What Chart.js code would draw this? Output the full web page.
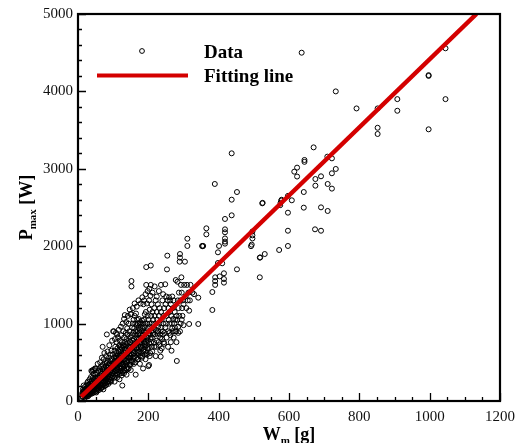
<!DOCTYPE html>
<html>
<head>
<meta charset="utf-8">
<title>Pmax vs Wm</title>
<script src="https://cdn.jsdelivr.net/npm/chart.js@4.4.0/dist/chart.umd.min.js"></script>
<style>
    html, body { margin: 0; padding: 0; background: #ffffff; }
    #wrap { width: 522px; height: 443px; }
</style>
</head>
<body>
<div id="wrap"><canvas id="ControlPmaxChart"></canvas></div>
<script>
// tick labels
var xTicks = [0, 200, 400, 600, 800, 1000, 1200];
var yTicks = [0, 1000, 2000, 3000, 4000, 5000];

// fitting line (two end points)
var fitW = [9, 1133];
var fitP = [55, 5000];

// measured data, [Wm (g), Pmax (W)]
var dataOrigin = [
    [10,40],[12,60],[12,90],[14,50],[15,120],[16,75],[17,140],[18,60],[18,100],[19,180],
    [20,45],[20,85],[21,130],[22,70],[22,160],[23,110],[24,200],[24,90],[25,60],[25,140],
    [26,120],[26,230],[27,80],[27,170],[28,100],[28,250],[29,140],[30,70],[30,190],[30,120],
    [14,150],[16,200],[19,130],[21,95],[23,65],[26,90],[28,60],[29,210],[13,110],[17,100]
];

var dataLow = [
    [31,90],[31,160],[32,210],[32,130],[33,100],[33,280],[34,170],[34,140],[35,120],[35,230],
    [36,190],[36,90],[37,150],[37,310],[38,200],[38,130],[39,260],[39,110],[40,180],[40,380],
    [40,140],[41,220],[41,100],[42,160],[42,300],[43,240],[43,130],[44,190],[44,350],[45,110],
    [45,270],[45,210],[46,160],[46,400],[47,230],[47,140],[48,300],[48,180],[49,120],[49,260],
    [50,200],[50,340],[50,150],[51,420],[51,240],[52,170],[52,290],[53,130],[53,220],[54,360],
    [54,190],[55,250],[55,150],[56,310],[56,480],[57,210],[57,170],[58,270],[58,390],[59,140],
    [59,230],[60,300],[60,190],[38,390],[42,400],[48,420],[36,120],[44,150],[52,110],[58,160]
];

var dataMid = [
    [61,250],[61,420],[62,180],[62,330],[63,500],[63,270],[64,210],[64,380],[65,160],[65,300],
    [66,450],[66,240],[67,350],[67,200],[68,560],[68,290],[69,410],[69,230],[70,320],[70,180],
    [70,700],[71,260],[71,470],[72,380],[72,210],[73,300],[73,540],[74,250],[74,430],[75,340],
    [75,190],[75,620],[76,280],[76,400],[77,230],[77,500],[78,360],[78,300],[79,260],[79,450],
    [80,580],[80,330],[80,210],[81,400],[81,280],[82,490],[82,860],[83,350],[83,240],[84,430],
    [84,640],[85,300],[85,520],[86,380],[86,260],[87,460],[87,330],[88,560],[88,290],[89,410],
    [89,720],[90,350],[90,250],[90,480],[91,600],[91,310],[92,430],[92,380],[93,520],[93,270],
    [94,460],[94,340],[95,650],[95,400],[96,300],[96,540],[97,420],[97,780],[98,360],[98,480],
    [99,320],[99,600],[100,440],[100,380],[100,900],[66,170],[72,150],[78,200],[86,220],[94,250]
];

var dataHigh = [
    [101,500],[101,350],[102,900],[102,420],[103,560],[103,300],[104,470],[104,650],[105,390],[105,520],
    [106,330],[106,700],[107,450],[107,580],[108,880],[108,400],[109,620],[109,360],[110,500],[110,430],
    [110,760],[111,550],[111,300],[112,480],[112,680],[113,410],[113,590],[114,520],[114,820],[115,380],
    [115,640],[116,470],[116,560],[117,720],[117,430],[118,600],[118,350],[119,510],[119,780],[120,660],
    [120,450],[120,540],[121,390],[121,700],[122,580],[122,480],[123,850],[123,620],[124,420],[124,530],
    [125,690],[125,760],[126,200],[126,470],[127,600],[127,380],[128,650],[128,540],[129,900],[129,450],
    [130,720],[130,580],[131,500],[131,820],[132,620],[132,400],[133,680],[133,1110],[134,540],[134,760],
    [135,460],[135,600],[136,880],[136,650],[137,520],[137,720],[138,420],[138,800],[139,580],[139,680],
    [140,940],[140,500],[141,750],[141,620],[142,440],[142,860],[143,560],[143,700],[144,1000],[144,640],
    [145,520],[145,780],[146,600],[146,900],[147,470],[147,700],[148,820],[148,560],[149,660],[149,760],
    [150,1120],[150,580],[150,400],
    [104,250],[112,340],[118,280],[124,330],[131,360],[138,340],[144,420],[108,560],[116,640],[127,720]
];

var dataUpper = [
    [151,1125],[152,1550],[152,1480],[152,700],[153,850],[153,600],[154,950],[154,500],[155,780],[155,660],
    [156,1000],[156,560],[157,880],[157,720],[158,1050],[158,620],[159,800],[159,480],[160,940],[160,700],
    [161,1100],[161,580],[162,860],[162,760],[163,1000],[163,640],[164,340],[164,900],[165,1130],[165,720],
    [166,820],[166,560],[167,980],[167,680],[168,1050],[168,800],[169,620],[169,900],[170,760],[170,1000],
    [171,860],[171,540],[172,940],[172,700],[173,1060],[173,800],[174,640],[174,880],[175,1000],[175,740],
    [176,580],[176,920],[177,820],[177,1020],[178,700],[178,960],[179,860],[179,620],[180,1000],[180,760],
    [181,900],[181,680],[182,1040],[182,800],[183,580],[183,940],[184,860],[184,720],[185,1000],[185,420],
    [186,780],[186,1250],[187,900],[187,660],[188,1050],[188,820],[189,960],[189,600],[190,740],[190,1120],
    [191,880],[191,700],[192,1000],[192,640],[193,1150],[193,800],[194,1730],[194,1500],[195,900],[195,720],
    [196,1260],[196,600],[197,1000],[197,820],[198,1100],[198,680],[199,940],[199,780],[200,1050],[200,450],
    [201,880],[202,1300],[202,465],[203,1000],[203,740],[204,1180],[204,860],[205,960],[205,620],[206,1360],
    [206,800],[207,1500],[207,1750],[208,1100],[208,900],[209,700],[209,1250],[210,1000],[210,820]
];

// extra points below and above the fitted line in the 100-300 g range
var dataBelow = [
    [121,420],[125,360],[128,470],[133,390],[136,480],[141,410],[145,560],[149,470],[153,520],[156,640],
    [159,560],[163,500],[166,690],[169,540],[172,620],[176,480],[179,700],[182,560],[186,640],[189,760],
    [192,540],[195,620],[198,820],[201,700],[204,580],[208,760],[211,640],[214,860],[217,700],[221,580],
    [224,780],[227,900],[231,720],[234,820],[238,680],[241,860],[245,740],[248,950],[252,820],[256,700],
    [260,880],[264,760],[268,940],[272,820],[276,900],[280,760],[285,960],[290,900],[295,1050],[300,980]
];

var dataAbove = [
    [105,800],[111,860],[116,920],[122,960],[127,1000],[131,1060],[137,1020],[142,1100],[147,1180],[156,1200],
    [161,1260],[167,1220],[172,1300],[178,1260],[183,1340],[188,1300],[192,1380],[198,1420],[203,1450],[212,1400],
    [218,1480],[224,1350],[230,1420],[236,1500],[242,1380]
];

var dataSpread = [
    [212,1150],[213,880],[214,1050],[215,950],[216,760],[217,1200],[218,1100],[219,860],[220,1000],[221,1300],
    [222,920],[223,700],[224,1150],[225,1050],[226,880],[227,1250],[228,960],[229,760],[230,1100],[231,1000],
    [232,1200],[233,860],[234,650],[235,573],[236,1150],[237,950],[238,1050],[239,800],[240,1300],[241,900],
    [242,1000],[243,1100],[244,760],[245,1200],[246,880],[248,1508],[249,1250],[250,1000],[251,1350],[252,1100],
    [253,1700],[254,1878],[255,1300],[256,900],[257,1200],[258,1050],[259,1340],[260,1000],[261,1150],[262,1300],
    [263,850],[264,1250],[265,1100],[266,650],[267,1000],[268,1350],[269,900],[270,1200],[271,1060],[272,1300],
    [274,1000],[275,1150],[276,950],[277,1050],[278,1563],[279,900],[280,1100],[281,517],[282,1050],[283,1541],
    [284,1300],[285,880],[286,1200],[287,1400],[288,1100],[289,1800],[290,1899],[290,1852],[291,1300],[292,1000],
    [293,1500],[294,1598],[295,1400],[296,1200],[297,1100],[298,1300],[300,1250],[302,1500],[304,1800],[306,1350],
    [308,1200],[310,1500],[311,2097],[311,2003],[312,1300],[314,1400],[316,1167],[316,995],[318,1300],[320,1500],
    [325,1400],[330,1380]
];

var dataSparse = [
    [342,1335],[342,995],[353,2003],[354,2000],[356,2003],[365,2231],[365,2153],[382,1408],[382,1176],[389,2804],
    [390,1598],[390,1550],[390,1500],[398,1921],[398,1783],[401,2003],[403,1610],[410,1779],[415,1650],[415,1576],
    [415,1529],[418,2352],[418,2218],[418,2180],[418,2100],[418,2060],[418,2033],[437,3200],[437,2601],[437,2399],
    [452,2700],[452,1701],
    [496,2190],[496,2140],[496,2100],[494,2020],[492,2000],[517,1852],[518,1855],[531,1899],[517,1598],[524,2554],
    [525,2560],[572,1951],[575,2530],[576,2560],[578,2590],[579,2600],[597,2433],[597,2200],[597,2003],[597,2650],
    [608,2593],[615,2963],[623,3015],[623,2900],[636,4500],[642,2700],[642,2498],[644,3114],[644,3090],[670,3277],
    [674,2218],[675,2868],[675,2782],[691,2903],[691,2502],[691,2200],[709,3157],[710,2804],[710,2455],[722,3135],
    [722,2942],[722,2744],[733,4000],[733,2998],[792,3780],[852,3780],[852,3530],[852,3450],[908,3900],[908,3750],
    [997,4200],[997,4210],[997,3510],[1045,4557],[1045,3900]
];

var serif = '"Liberation Serif", "Times New Roman", serif';
var lineRed = '#d40000';

var pmaxChart = {

    initialize: function () {
        var all = dataOrigin.concat(dataLow, dataMid, dataHigh, dataUpper, dataBelow, dataAbove, dataSpread, dataSparse);
        var points = [];
        for (var i = 0; i < all.length; i++) {
            points.push({ x: all[i][0], y: all[i][1] });
        }
        var fit = [];
        for (var j = 0; j < fitW.length; j++) {
            fit.push({ x: fitW[j], y: fitP[j] });
        }
        pmaxChart.draw(points, fit);
    },

    // inward major/minor ticks, frame, legend and axis titles
    decorPlugin: {
        id: 'decor',
        afterDraw: function (chart) {
            var ctx = chart.ctx;
            var a = chart.chartArea;
            var xs = chart.scales.x;
            var ys = chart.scales.y;
            var v, p;

            ctx.save();
            ctx.strokeStyle = '#000';
            ctx.lineWidth = 1.3;
            ctx.beginPath();
            for (v = 0; v <= 1200; v += 50) {
                p = Math.round(xs.getPixelForValue(v)) + 0.5;
                var lx = (v % 200 === 0) ? 8 : 4;
                ctx.moveTo(p, a.bottom);
                ctx.lineTo(p, a.bottom - lx);
            }
            for (v = 0; v <= 5000; v += 200) {
                p = Math.round(ys.getPixelForValue(v)) + 0.5;
                var ly = (v % 1000 === 0) ? 8 : 4;
                ctx.moveTo(a.left, p);
                ctx.lineTo(a.left + ly, p);
            }
            ctx.stroke();

            ctx.lineWidth = 2.2;
            ctx.strokeRect(a.left, a.top, a.right - a.left, a.bottom - a.top);

            // legend
            ctx.lineWidth = 1;
            ctx.beginPath();
            ctx.arc(142, 51, 2.4, 0, Math.PI * 2);
            ctx.stroke();
            ctx.strokeStyle = lineRed;
            ctx.lineWidth = 4;
            ctx.beginPath();
            ctx.moveTo(97, 75.5);
            ctx.lineTo(188, 75.5);
            ctx.stroke();
            ctx.fillStyle = '#000';
            ctx.font = 'bold 19px ' + serif;
            ctx.textAlign = 'left';
            ctx.textBaseline = 'alphabetic';
            ctx.fillText('Data', 204, 58);
            ctx.fillText('Fitting line', 204, 82);

            // axis titles with subscripts
            pmaxChart.subTitle(ctx, 'W', 'm', ' [g]', (a.left + a.right) / 2, 440, false);
            pmaxChart.subTitle(ctx, 'P', 'max', ' [W]', (a.top + a.bottom) / 2, 32, true);
            ctx.restore();
        }
    },

    // center = position along the axis, base = baseline position across it
    subTitle: function (ctx, main, sub, tail, center, base, rotate) {
        var big = 'bold 18px ' + serif;
        var small = 'bold 11px ' + serif;
        ctx.save();
        ctx.fillStyle = '#000';
        ctx.textAlign = 'left';
        ctx.textBaseline = 'alphabetic';
        ctx.font = big;
        var w1 = ctx.measureText(main).width;
        var w3 = ctx.measureText(tail).width;
        ctx.font = small;
        var w2 = ctx.measureText(sub).width;
        var total = w1 + w2 + w3;
        if (rotate) {
            ctx.translate(base, center);
            ctx.rotate(-Math.PI / 2);
        } else {
            ctx.translate(center, base);
        }
        var x0 = -total / 2;
        ctx.font = big;
        ctx.fillText(main, x0, 0);
        ctx.font = small;
        ctx.fillText(sub, x0 + w1, 4);
        ctx.font = big;
        ctx.fillText(tail, x0 + w1 + w2, 0);
        ctx.restore();
    },

    draw: function (points, fit) {
        var ctx = document.getElementById('ControlPmaxChart').getContext('2d');
        var myChart = new Chart(ctx, {
            type: 'scatter',
            data: {
                datasets: [{
                    label: 'Fitting line',
                    data: fit,
                    showLine: true,
                    borderColor: lineRed,
                    backgroundColor: lineRed,
                    borderWidth: 4.5,
                    pointRadius: 0,
                    order: 0
                },
                {
                    label: 'Data',
                    data: points,
                    pointStyle: 'circle',
                    pointRadius: 2.5,
                    borderWidth: 1,
                    borderColor: '#000000',
                    backgroundColor: 'rgba(0,0,0,0)',
                    order: 1
                }]
            },
            options: {
                responsive: true,
                maintainAspectRatio: false,
                animation: false,
                layout: { padding: { top: 14, right: 19, left: 0, bottom: 0 } },
                plugins: {
                    legend: { display: false },
                    tooltip: { enabled: false }
                },
                scales: {
                    x: {
                        type: 'linear',
                        min: 0,
                        max: 1200,
                        afterFit: function (s) { s.height = 42; },
                        afterBuildTicks: function (s) {
                            s.ticks = xTicks.map(function (v) { return { value: v }; });
                        },
                        grid: { display: false, drawTicks: false },
                        border: { display: false },
                        ticks: {
                            padding: 7,
                            color: '#111',
                            maxRotation: 0,
                            font: { family: serif, size: 15 },
                            callback: function (value) { return String(value); }
                        }
                    },
                    y: {
                        type: 'linear',
                        min: 0,
                        max: 5000,
                        afterFit: function (s) { s.width = 78; },
                        afterBuildTicks: function (s) {
                            s.ticks = yTicks.map(function (v) { return { value: v }; });
                        },
                        grid: { display: false, drawTicks: false },
                        border: { display: false },
                        ticks: {
                            padding: 5,
                            color: '#111',
                            font: { family: serif, size: 15 },
                            callback: function (value) { return String(value); }
                        }
                    }
                }
            },
            plugins: [pmaxChart.decorPlugin]
        });
    }
};

pmaxChart.initialize();
</script>
</body>
</html>
